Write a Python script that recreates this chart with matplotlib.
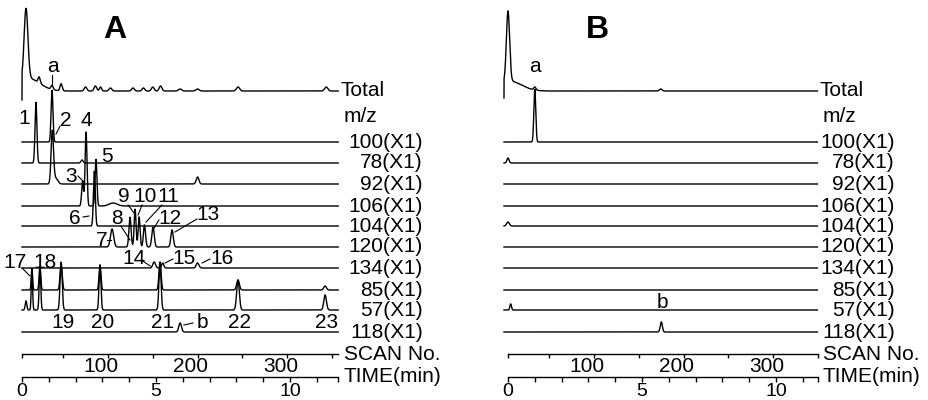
import numpy as np
import matplotlib
matplotlib.use("Agg")
import matplotlib.pyplot as plt

plt.rcParams["font.family"] = ["Liberation Sans", "DejaVu Sans"]

# ---------------------------------------------------------------------------
# Data: ion channels (top to bottom) and peaks (time [min], height, sigma [min])
# ---------------------------------------------------------------------------
CHANNELS = ["Total", "100", "78", "92", "106", "104", "120", "134", "85", "57", "118"]
CHANNEL_LABELS = ["Total", "100(X1)", "78(X1)", "92(X1)", "106(X1)", "104(X1)",
                  "120(X1)", "134(X1)", "85(X1)", "57(X1)", "118(X1)"]

# panel A - sample
A_PEAKS = {
    "Total": [(0.15, 70, 0.07), (0.20, 13, 0.45), (0.64, 6, 0.04), (1.12, 4, 0.04),
              (1.46, 7, 0.04), (2.37, 4, 0.05), (2.74, 5, 0.05), (2.93, 4, 0.04),
              (3.30, 3, 0.05), (4.14, 3, 0.05), (4.53, 3, 0.05), (4.88, 4, 0.05),
              (5.17, 5, 0.05), (5.90, 2, 0.06), (6.55, 2, 0.06), (8.06, 4, 0.06),
              (11.35, 4, 0.06)],
    "100": [(1.12, 52, 0.035)],
    "78": [(0.52, 61, 0.035), (2.24, 3, 0.04)],
    "92": [(1.13, 52, 0.045), (1.25, 6, 0.08), (6.55, 7, 0.05)],
    "106": [(2.26, 25, 0.035), (2.39, 74, 0.035), (2.76, 47, 0.035), (3.40, 3, 0.15)],
    "104": [(2.70, 55, 0.035)],
    "120": [(3.36, 18, 0.06), (4.03, 30, 0.04), (4.22, 38, 0.035), (4.37, 30, 0.035),
            (4.57, 22, 0.04), (4.89, 20, 0.045), (5.60, 17, 0.045)],
    "134": [(4.93, 6, 0.05), (5.25, 5, 0.04), (6.55, 5, 0.05)],
    "85": [(0.37, 22, 0.025), (0.67, 24, 0.03), (1.46, 25, 0.04), (2.91, 25, 0.035),
           (5.15, 28, 0.04), (8.06, 10, 0.05), (11.31, 4, 0.05)],
    "57": [(0.15, 9, 0.03), (0.37, 38, 0.025), (0.67, 42, 0.03), (1.46, 48, 0.04),
           (2.91, 45, 0.035), (5.15, 47, 0.04), (8.06, 30, 0.05), (11.31, 15, 0.05)],
    "118": [(5.90, 9, 0.05)],
}
A_TOTAL_START = -9

# panel B - blank
B_PEAKS = {
    "Total": [(0.00, 70, 0.06), (0.05, 10, 0.45), (1.00, 3, 0.04), (5.70, 2, 0.05)],
    "100": [(1.00, 53, 0.035)],
    "78": [(0.00, 5, 0.04)],
    "92": [],
    "106": [],
    "104": [(0.00, 4, 0.05)],
    "120": [],
    "134": [],
    "85": [],
    "57": [(0.10, 6, 0.03)],
    "118": [(5.72, 10, 0.04)],
}
B_TOTAL_START = -7

# peak labels: (text, x, y, leader or None)
A_LABELS = [
    ("a", 1.16, 333, ((1.12, 325), (1.12, 316))),
    ("1", 0.07, 282, None),
    ("2", 1.64, 280, ((1.42, 274), (1.27, 266))),
    ("4", 2.39, 279, None),
    ("3", 1.83, 223, ((2.09, 224), (2.31, 218))),
    ("5", 3.17, 244, None),
    ("6", 1.98, 182, ((2.28, 183), (2.50, 184))),
    ("7", 2.99, 160, ((3.17, 160), (3.32, 160))),
    ("8", 3.54, 182, ((3.69, 174), (4.03, 160))),
    ("9", 3.81, 204, ((3.96, 195), (4.18, 187))),
    ("10", 4.59, 204, ((4.48, 195), (4.33, 185))),
    ("11", 5.45, 204, ((5.22, 195), (4.63, 178))),
    ("12", 5.52, 182, ((5.11, 180), (4.93, 172))),
    ("13", 6.94, 185, ((6.53, 181), (5.71, 168))),
    ("14", 4.18, 142, ((4.51, 139), (4.78, 134))),
    ("15", 6.04, 142, ((5.63, 141), (5.34, 137))),
    ("16", 7.46, 142, ((7.01, 141), (6.72, 137))),
    ("17", -0.26, 138, ((0.00, 132), (0.30, 124))),
    ("18", 0.86, 138, None),
    ("19", 1.53, 78, None),
    ("20", 2.99, 78, None),
    ("21", 5.26, 78, None),
    ("b", 6.75, 78, ((6.38, 77), (6.04, 75))),
    ("22", 8.13, 78, None),
    ("23", 11.38, 78, None),
]
B_LABELS = [
    ("a", 1.01, 333, None),
    ("b", 5.75, 98, None),
]

TIME_TICKS = list(range(0, 12))
TIME_LABELS = [0, 5, 10]
SCAN_TICKS = [50, 100, 150, 200, 250, 300, 350]
SCAN_LABELS = [100, 200, 300]
SCAN_T0 = -0.15       # min at scan 0
SCAN_MIN = 0.0335     # min per scan

# ---------------------------------------------------------------------------
# Layout (pixel units on a 929 x 400 canvas)
# ---------------------------------------------------------------------------
PX_PER_MIN = 26.8
BASE_Y = [309, 258, 237, 216, 194, 174, 153, 132, 110, 90, 68]
MZ_Y = 284
SCAN_Y = 46
TIME_Y = 23
FS = 15


def trace(peaks, t):
    y = np.zeros_like(t)
    for t0, h, s in peaks:
        y += h * np.exp(-0.5 * ((t - t0) / s) ** 2)
    return y


def draw_panel(ax, peaks, labels, letter, t_start, t_end, total_start,
               lab_left, lab_right):
    t = np.arange(t_start, t_end, 0.004)
    for ch, base in zip(CHANNELS, BASE_Y):
        y = base + trace(peaks[ch], t)
        tt, yy = t, y
        if ch == "Total":
            tt = np.r_[t_start, t]
            yy = np.r_[base + total_start, y]
        ax.plot(tt, yy, color="black", lw=1.0, solid_joinstyle="miter")

    # channel labels
    ax.text(lab_left, BASE_Y[0], "Total", ha="left", va="center", fontsize=FS)
    ax.text(lab_left + 0.1, MZ_Y, "m/z", ha="left", va="center", fontsize=FS)
    for lab, base in zip(CHANNEL_LABELS[1:], BASE_Y[1:]):
        ax.text(lab_right, base, lab, ha="right", va="center", fontsize=FS)

    # scan axis
    scan_t = [SCAN_T0 + s * SCAN_MIN for s in SCAN_TICKS]
    ax.plot([0, t_end], [SCAN_Y, SCAN_Y], color="black", lw=1.0)
    ax.vlines([0] + scan_t, SCAN_Y - 4, SCAN_Y, color="black", lw=1.0)
    for s in SCAN_LABELS:
        ax.text(SCAN_T0 + s * SCAN_MIN - 0.25, SCAN_Y - 13, str(s), ha="center",
                va="center", fontsize=FS)
    ax.text(lab_left + 0.1, SCAN_Y, "SCAN No.", ha="left", va="center", fontsize=FS)

    # time axis
    ax.plot([0, t_end], [TIME_Y, TIME_Y], color="black", lw=1.0)
    ax.vlines(TIME_TICKS + [t_end], TIME_Y - 5, TIME_Y, color="black", lw=1.0)
    for v in TIME_LABELS:
        ax.text(v, 4, str(v), ha="center", va="baseline", fontsize=14)
    ax.text(lab_left + 0.1, TIME_Y, "TIME(min)", ha="left", va="center", fontsize=FS)

    # peak labels
    for txt, x, y, lead in labels:
        ax.text(x, y, txt, ha="center", va="center", fontsize=FS)
        if lead is not None:
            (x0, y0), (x1, y1) = lead
            ax.plot([x0, x1], [y0, y1], color="black", lw=0.8)

    ax.text(letter[1], letter[2], letter[0], ha="center", va="center",
            fontsize=23, fontweight="bold")


fig = plt.figure(figsize=(9.29, 4.0), dpi=100)
W = 929.0
half = 464.0

axA = fig.add_axes([0, 0, half / W, 1])
axA.set_xlim(-22 / PX_PER_MIN, (half - 22) / PX_PER_MIN)
axB = fig.add_axes([465 / W, 0, half / W, 1])
axB.set_xlim(-(508 - 465) / PX_PER_MIN, (929 - 508) / PX_PER_MIN)
for ax in (axA, axB):
    ax.set_ylim(0, 400)
    ax.axis("off")

draw_panel(axA, A_PEAKS, A_LABELS, ("A", 3.47, 370), 0.0, 11.8, A_TOTAL_START,
           11.9, 14.96)
draw_panel(axB, B_PEAKS, B_LABELS, ("B", 3.32, 370), -0.15, 11.55, B_TOTAL_START,
           11.64, 14.44)

fig.savefig("out.png", dpi=100)
